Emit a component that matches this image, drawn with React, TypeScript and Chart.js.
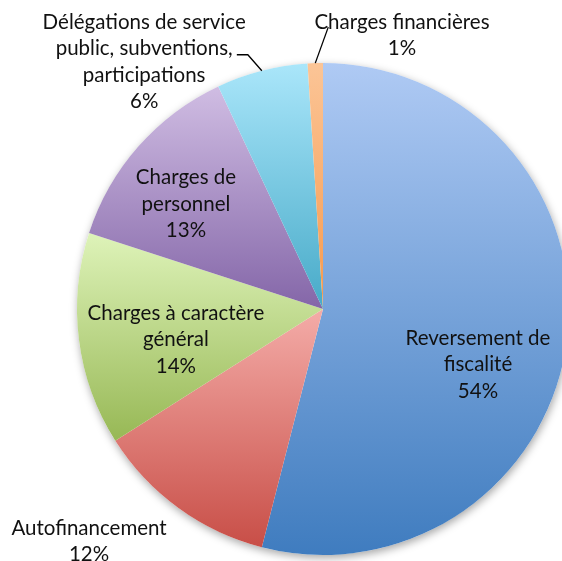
import React, { useEffect, useRef } from "react";
import { Chart, registerables } from "chart.js";

Chart.register(...registerables);

const categories: string[] = [
  "Reversement de fiscalité",
  "Autofinancement",
  "Charges à caractère général",
  "Charges de personnel",
  "Délégations de service public, subventions, participations",
  "Charges financières",
];
const values: number[] = [54, 12, 14, 13, 6, 1];
const labelLines: string[][] = [
  ["Reversement de", "fiscalité", "54%"],
  ["Autofinancement", "12%"],
  ["Charges à caractère", "général", "14%"],
  ["Charges de", "personnel", "13%"],
  ["Délégations de service", "public, subventions,", "participations", "6%"],
  ["Charges financières", "1%"],
];
const gradientTop: string[] = ["#AFCAF4", "#F4ACA8", "#DEF3B9", "#D0BDE3", "#AAE6FA", "#FBC597"];
const gradientBottom: string[] = ["#3F7CBF", "#C84E47", "#97B855", "#8466A8", "#47AAC8", "#F7994C"];

// label placement, as fractions of the pie radius from its centre (first line centre)
const labelPos: [number, number][] = [
  [0.63, 0.118],
  [-0.951, 0.89],
  [-0.598, 0.016],
  [-0.557, -0.533],
  [-0.727, -1.167],
  [0.321, -1.167],
];

const FONT_FAMILY = "Lato, 'Open Sans', sans-serif";
const FONT_SIZE = 20.5;
const LINE_H = 26.5;

const piePlugin = {
  id: "piePlugin",
  beforeDatasetsDraw(chart: any) {
    const meta = chart.getDatasetMeta(0);
    const ctx = chart.ctx;
    const first = meta.data[0];
    if (!first) return;
    const { x, y, outerRadius } = first.getProps(["x", "y", "outerRadius"], true);
    // soft shadow
    ctx.save();
    ctx.beginPath();
    ctx.arc(x, y, outerRadius, 0, Math.PI * 2);
    ctx.shadowColor = "rgba(0,0,0,0.35)";
    ctx.shadowBlur = 8;
    ctx.shadowOffsetX = 1;
    ctx.shadowOffsetY = 3;
    ctx.fillStyle = "#ffffff";
    ctx.fill();
    ctx.restore();
    // per-slice vertical gradients
    meta.data.forEach((arc: any, i: number) => {
      const p = arc.getProps(["x", "y", "startAngle", "endAngle", "outerRadius"], true);
      let minY = p.y;
      let maxY = p.y;
      const pts: number[] = [p.startAngle, p.endAngle];
      for (let k = -4; k <= 8; k++) {
        const a = (k * Math.PI) / 2;
        if (a > p.startAngle && a < p.endAngle) pts.push(a);
      }
      pts.forEach((a) => {
        const yy = p.y + Math.sin(a) * p.outerRadius;
        minY = Math.min(minY, yy);
        maxY = Math.max(maxY, yy);
      });
      const g = ctx.createLinearGradient(0, minY, 0, maxY);
      g.addColorStop(0, gradientTop[i]);
      g.addColorStop(1, gradientBottom[i]);
      arc.options.backgroundColor = g;
    });
  },
  afterDatasetsDraw(chart: any) {
    const meta = chart.getDatasetMeta(0);
    const ctx = chart.ctx;
    const first = meta.data[0];
    if (!first) return;
    const { x: cx, y: cy, outerRadius: R } = first.getProps(["x", "y", "outerRadius"], true);
    ctx.save();
    // leader lines for the two small slices
    ctx.strokeStyle = "#000000";
    ctx.lineWidth = 1.3;
    const mid = (i: number) => {
      const p = meta.data[i].getProps(["startAngle", "endAngle"], true);
      const a = (p.startAngle + p.endAngle) / 2;
      return { x: cx + Math.cos(a) * R, y: cy + Math.sin(a) * R };
    };
    const e4 = mid(4);
    ctx.beginPath();
    ctx.moveTo(e4.x, e4.y);
    ctx.lineTo(e4.x - 14, e4.y - 16);
    ctx.lineTo(e4.x - 25, e4.y - 16);
    ctx.stroke();
    const e5 = mid(5);
    ctx.beginPath();
    ctx.moveTo(e5.x, e5.y);
    ctx.lineTo(e5.x + 13, e5.y - 36);
    ctx.stroke();
    // labels
    ctx.fillStyle = "#111111";
    ctx.font = `${FONT_SIZE}px ${FONT_FAMILY}`;
    ctx.textAlign = "center";
    ctx.textBaseline = "middle";
    labelLines.forEach((lines, i) => {
      const lx = cx + labelPos[i][0] * R;
      const ly = cy + labelPos[i][1] * R;
      lines.forEach((t, j) => ctx.fillText(t, lx, ly + j * LINE_H));
    });
    ctx.restore();
  },
};

export default function App() {
  const ref = useRef<HTMLCanvasElement | null>(null);
  useEffect(() => {
    if (!ref.current) return;
    const chart = new Chart(ref.current, {
      type: "pie",
      data: {
        labels: categories,
        datasets: [
          {
            data: values,
            backgroundColor: gradientBottom,
            borderWidth: 0,
          },
        ],
      },
      options: {
        animation: false,
        responsive: false,
        devicePixelRatio: 1,
        rotation: 0,
        layout: { padding: { left: 77, right: 77, top: 63, bottom: 6 } },
        plugins: {
          legend: { display: false },
          tooltip: { enabled: false },
        },
      },
      plugins: [piePlugin],
    });
    return () => chart.destroy();
  }, []);
  return (
    <div
      style={{
        position: "fixed",
        left: 0,
        top: 0,
        width: 562,
        height: 561,
        overflow: "hidden",
        background: "#ffffff",
      }}
    >
      <canvas ref={ref} width={646} height={561} style={{ width: 646, height: 561, display: "block" }} />
    </div>
  );
}
